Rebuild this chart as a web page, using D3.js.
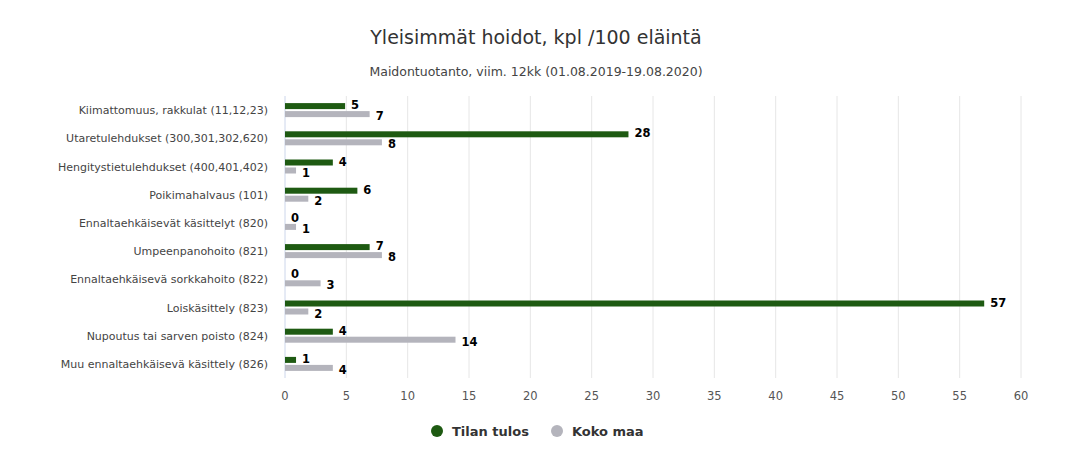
<!DOCTYPE html>
<html><head><meta charset="utf-8">
<script src="https://cdn.jsdelivr.net/npm/d3@7"></script>
<style>body{margin:0;background:#fff}text{font-family:"DejaVu Sans",sans-serif}</style>
</head><body><svg id="c" width="1076" height="449"></svg>
<script>
const categories=["Kiimattomuus, rakkulat (11,12,23)","Utaretulehdukset (300,301,302,620)","Hengitystietulehdukset (400,401,402)","Poikimahalvaus (101)","Ennaltaehkäisevät käsittelyt (820)","Umpeenpanohoito (821)","Ennaltaehkäisevä sorkkahoito (822)","Loiskäsittely (823)","Nupoutus tai sarven poisto (824)","Muu ennaltaehkäisevä käsittely (826)"];
const tilan=[4.9,28,3.9,5.9,0,6.9,0,57,3.9,0.9];
const koko=[6.9,7.9,0.9,1.9,0.9,7.9,2.9,1.9,13.9,3.9];
const tilanLabels=[5,28,4,6,0,7,0,57,4,1];
const kokoLabels=[7,8,1,2,1,8,3,2,14,4];
const ticks=[0,5,10,15,20,25,30,35,40,45,50,55,60];
const svg=d3.select("#c");
const x=d3.scaleLinear().domain([0,60]).range([285,1021]);
const y=d3.scaleBand().domain(categories).range([96,378]);
svg.append("text").attr("x",536).attr("y",44).attr("text-anchor","middle").attr("font-size",19).attr("fill","#333").text("Yleisimmät hoidot, kpl /100 eläintä");
svg.append("text").attr("x",536).attr("y",76).attr("text-anchor","middle").attr("font-size",12.5).attr("fill","#444").text("Maidontuotanto, viim. 12kk (01.08.2019-19.08.2020)");
ticks.forEach(t=>{
 if(t>0)svg.append("line").attr("x1",x(t)).attr("x2",x(t)).attr("y1",96).attr("y2",378).attr("stroke","#e6e6e6");
 svg.append("text").attr("x",x(t)).attr("y",400).attr("text-anchor","middle").attr("font-size",11.5).attr("fill","#555").text(t);
});
svg.append("line").attr("x1",285).attr("x2",285).attr("y1",96).attr("y2",378).attr("stroke","#ccd6eb");
categories.forEach((c,i)=>{
 const yc=y(c)+y.bandwidth()/2;
 svg.append("text").attr("x",268).attr("y",yc+4).attr("text-anchor","end").attr("font-size",11).attr("fill","#444").text(c);
 svg.append("rect").attr("x",x(0)).attr("y",yc-7).attr("width",x(tilan[i])-x(0)).attr("height",6).attr("fill","#1e5a12");
 svg.append("rect").attr("x",x(0)).attr("y",yc+1).attr("width",x(koko[i])-x(0)).attr("height",6).attr("fill","#b4b4bc");
 svg.append("text").attr("x",x(tilan[i])+6).attr("y",yc-1).attr("font-size",11.5).attr("font-weight","bold").attr("fill","#000").text(tilanLabels[i]);
 svg.append("text").attr("x",x(koko[i])+6).attr("y",yc+10).attr("font-size",11.5).attr("font-weight","bold").attr("fill","#000").text(kokoLabels[i]);
});
[["Tilan tulos","#1e5a12",437],["Koko maa","#b4b4bc",557]].forEach(([t,c,lx])=>{
 svg.append("circle").attr("cx",lx).attr("cy",431).attr("r",6).attr("fill",c);
 svg.append("text").attr("x",lx+15).attr("y",436).attr("font-size",13).attr("font-weight","bold").attr("fill","#333").text(t);
});
</script></body></html>
